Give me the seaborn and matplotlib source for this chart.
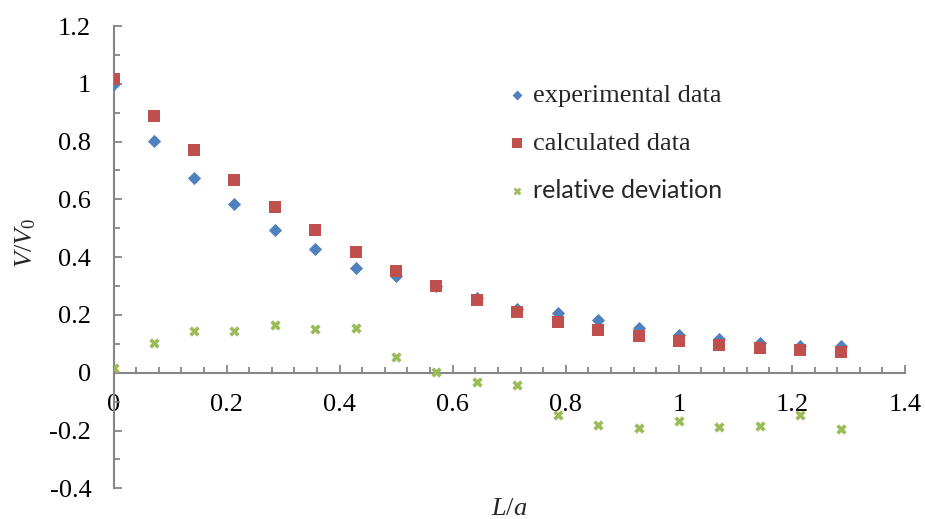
import matplotlib
matplotlib.use("Agg")
import matplotlib.pyplot as plt
import seaborn as sns
import pandas as pd
from matplotlib.ticker import MultipleLocator

# ---- data ----
x_vals = [0.000, 0.071, 0.143, 0.214, 0.286, 0.357, 0.429, 0.500, 0.571, 0.643,
          0.714, 0.786, 0.857, 0.929, 1.000, 1.071, 1.143, 1.214, 1.286]
experimental = [1.000, 0.803, 0.673, 0.583, 0.493, 0.427, 0.364, 0.335, 0.300, 0.260,
                0.222, 0.208, 0.182, 0.156, 0.130, 0.117, 0.104, 0.092, 0.091]
calculated = [1.015, 0.889, 0.772, 0.668, 0.575, 0.493, 0.418, 0.353, 0.300, 0.252,
              0.211, 0.177, 0.148, 0.127, 0.110, 0.096, 0.086, 0.078, 0.073]
deviation = [0.018, 0.104, 0.145, 0.145, 0.166, 0.150, 0.154, 0.054, 0.003, -0.032,
             -0.043, -0.148, -0.181, -0.192, -0.166, -0.189, -0.184, -0.146, -0.196]
series_names = ["experimental data", "calculated data", "relative deviation"]
colors = ["#4F81BD", "#C0504D", "#9BBB59"]
x_ticks = [0, 0.2, 0.4, 0.6, 0.8, 1, 1.2, 1.4]
y_ticks = [-0.4, -0.2, 0, 0.2, 0.4, 0.6, 0.8, 1, 1.2]

df = pd.DataFrame({
    "x": x_vals * 3,
    "y": experimental + calculated + deviation,
    "series": [series_names[0]] * len(x_vals) + [series_names[1]] * len(x_vals)
              + [series_names[2]] * len(x_vals),
})

sns.set_theme(style="white")
plt.rcParams["font.family"] = ["Liberation Serif", "DejaVu Serif"]
plt.rcParams["mathtext.fontset"] = "custom"
plt.rcParams["mathtext.it"] = "Liberation Serif:italic"
plt.rcParams["mathtext.rm"] = "Liberation Serif"

fig = plt.figure(figsize=(9.25, 5.19), dpi=100)
W, H = 925, 519
x0, x1 = 113.5, 905.0
y_top, y_bot = 26.0, 488.3
ax = fig.add_axes([x0 / W, 1 - y_bot / H, (x1 - x0) / W, (y_bot - y_top) / H])

palette = dict(zip(series_names, colors))
markers = {series_names[0]: "D", series_names[1]: "s", series_names[2]: "X"}
sizes_map = {series_names[0]: 45, series_names[1]: 80, series_names[2]: 55}

for name in series_names:
    sub = df[df["series"] == name]
    sns.scatterplot(data=sub, x="x", y="y", ax=ax, color=palette[name],
                    marker=markers[name], s=sizes_map[name], linewidth=0,
                    label=name, zorder=3)

ax.set_xlim(0, 1.4)
ax.set_ylim(-0.4, 1.2)
ax.set_xticks(x_ticks)
ax.set_xticklabels([f"{v:g}" for v in x_ticks])
ax.set_yticks(y_ticks)
ax.set_yticklabels([f"{v:g}" for v in y_ticks])
ax.xaxis.set_minor_locator(MultipleLocator(0.04))
ax.yaxis.set_minor_locator(MultipleLocator(0.1))

axis_color = "#868686"
for side in ["top", "right"]:
    ax.spines[side].set_visible(False)
ax.spines["left"].set_position(("data", 0))
ax.spines["bottom"].set_position(("data", 0))
for side in ["left", "bottom"]:
    ax.spines[side].set_color(axis_color)
    ax.spines[side].set_linewidth(1.5)

ax.tick_params(axis="both", which="both", direction="in", color=axis_color,
               labelsize=19, labelcolor="black", bottom=True, left=True,
               top=False, right=False)
ax.tick_params(axis="both", which="major", length=5.5, width=1.3)
ax.tick_params(axis="both", which="minor", length=4.5, width=1.3)
ax.tick_params(axis="x", which="major", pad=15)
ax.tick_params(axis="y", which="major", pad=16)

ax.set_xlabel(r"$L/a$", fontsize=19)
ax.set_ylabel(r"$V/V_0$", fontsize=19)
ax.xaxis.set_label_coords(0.5, -0.022)
ax.xaxis.label.set_va("top")
ax.yaxis.set_label_coords(-0.096, 0.53)

leg = ax.legend(loc="upper left", bbox_to_anchor=(0.48, 0.898), frameon=False,
                fontsize=19, handletextpad=0.1, labelspacing=0.92,
                handlelength=1.0, borderaxespad=0, markerscale=0.75)
texts = leg.get_texts()
texts[2].set_family("Lato")
texts[2].set_fontsize(18)

fig.savefig("out.png", dpi=100)
